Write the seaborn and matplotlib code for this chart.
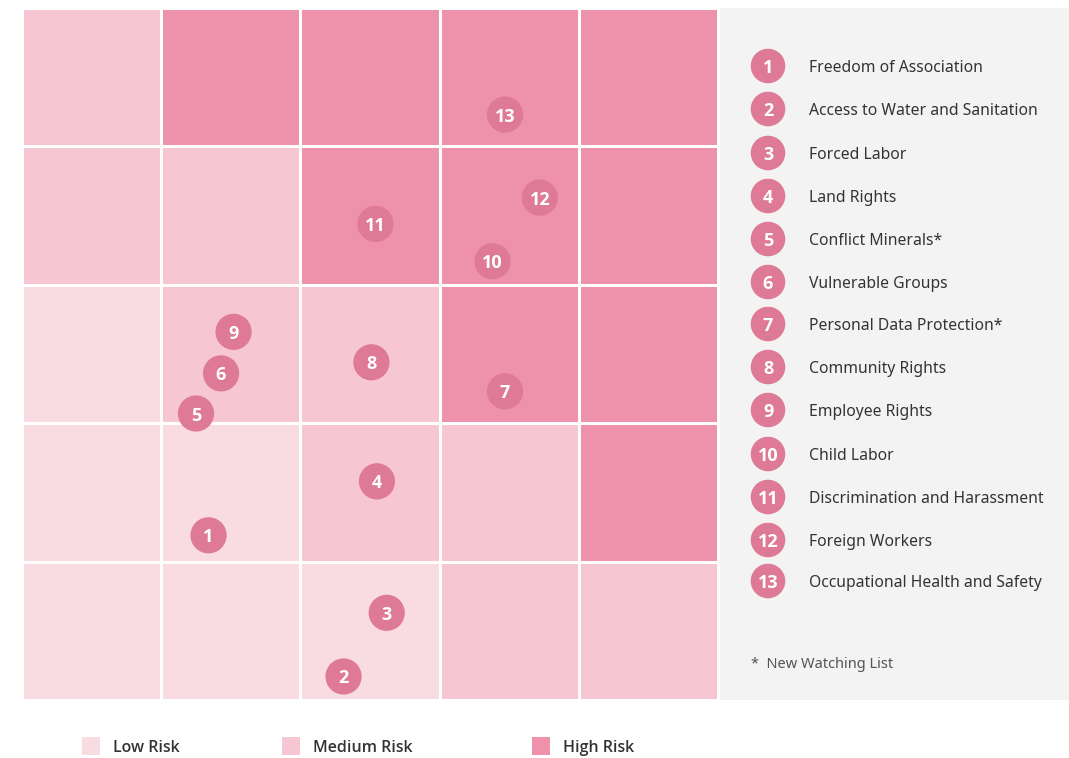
import numpy as np
import pandas as pd
import seaborn as sns
import matplotlib.pyplot as plt
from matplotlib.colors import ListedColormap
from matplotlib.patches import Rectangle

sns.set_theme(style="white")
plt.rcParams['font.family'] = ['Noto Sans', 'DejaVu Sans']

# ---- data ----
# risk level per cell, rows from top to bottom (0=low, 1=medium, 2=high)
risk_rows = [
    [1, 2, 2, 2, 2],
    [1, 1, 2, 2, 2],
    [0, 1, 1, 2, 2],
    [0, 0, 1, 1, 2],
    [0, 0, 0, 1, 1],
]
issue_ids = [1, 2, 3, 4, 5, 6, 7, 8, 9, 10, 11, 12, 13]
issue_x = [1.34, 2.31, 2.62, 2.55, 1.25, 1.43, 3.47, 2.51, 1.52, 3.38, 2.54, 3.72, 3.47]
issue_y = [1.19, 0.17, 0.63, 1.58, 2.07, 2.36, 2.23, 2.44, 2.66, 3.17, 3.44, 3.63, 4.23]
issue_names = [
    "Freedom of Association",
    "Access to Water and Sanitation",
    "Forced Labor",
    "Land Rights",
    "Conflict Minerals*",
    "Vulnerable Groups",
    "Personal Data Protection*",
    "Community Rights",
    "Employee Rights",
    "Child Labor",
    "Discrimination and Harassment",
    "Foreign Workers",
    "Occupational Health and Safety",
]
risk_labels = ["Low Risk", "Medium Risk", "High Risk"]
risk_colors = ["#F9DCE2", "#F6C7D2", "#EE91AB"]
circle_color = "#DE7A95"

W, H = 1069, 758
fig = plt.figure(figsize=(W / 100, H / 100), dpi=100)
fig.patch.set_facecolor("white")

def box(x0, y0, x1, y1):
    return [x0 / W, 1 - y1 / H, (x1 - x0) / W, (y1 - y0) / H]

# ---- heat grid ----
ax = fig.add_axes(box(22, 8, 718, 700))
df = pd.DataFrame(risk_rows)
sns.heatmap(df, ax=ax, cmap=ListedColormap(risk_colors), vmin=-0.5, vmax=2.5,
            cbar=False, linewidths=2, linecolor="white", square=False,
            xticklabels=False, yticklabels=False)
pts = pd.DataFrame({"x": issue_x, "y": [5 - v for v in issue_y], "id": issue_ids})
sns.scatterplot(data=pts, x="x", y="y", ax=ax, s=680, color=circle_color,
                edgecolor="none", legend=False, zorder=5)
for _, r in pts.iterrows():
    ax.text(r["x"], r["y"], str(int(r["id"])), color="white", fontsize=13,
            fontweight="bold", family="Open Sans", ha="center", va="center_baseline", zorder=6)
ax.set_xlim(0, 5)
ax.set_ylim(5, 0)
ax.set_xlabel("")
ax.set_ylabel("")
for s in ax.spines.values():
    s.set_visible(False)

# ---- right legend panel ----
lax = fig.add_axes(box(720, 8, 1069, 700))
lax.set_facecolor("#F3F3F3")
lax.set_xlim(720, 1069)
lax.set_ylim(700, 8)
leg_y = [66, 109, 153, 196, 239, 282, 324, 367, 410, 454, 497, 540, 581]
lpts = pd.DataFrame({"x": [768] * len(issue_ids), "y": leg_y, "id": issue_ids})
sns.scatterplot(data=lpts, x="x", y="y", ax=lax, s=620, color=circle_color,
                edgecolor="none", legend=False, zorder=5)
for i, (yy, name) in enumerate(zip(leg_y, issue_names)):
    lax.text(768, yy, str(issue_ids[i]), color="white", fontsize=13,
             fontweight="bold", family="Open Sans", ha="center", va="center_baseline", zorder=6)
    lax.text(809, yy, name, color="#333333", fontsize=11.3, ha="left",
             va="center_baseline", fontweight="medium")
lax.text(751, 662, "*  New Watching List", color="#555555", fontsize=10.5, ha="left",
         va="center_baseline")
lax.set_xticks([])
lax.set_yticks([])
lax.set_xlabel("")
lax.set_ylabel("")
for s in lax.spines.values():
    s.set_visible(False)

# ---- bottom legend ----
bax = fig.add_axes([0, 0, 1, 1], facecolor="none")
bax.set_xlim(0, W)
bax.set_ylim(H, 0)
bax.axis("off")
leg_x = [82, 282, 532]
for x0, lab, c in zip(leg_x, risk_labels, risk_colors):
    bax.add_patch(Rectangle((x0, 737), 18, 18, facecolor=c, edgecolor="none"))
    bax.text(x0 + 31, 746, lab, color="#333333", fontsize=11.5, family="Open Sans",
             fontweight="semibold", ha="left", va="center_baseline")

fig.savefig("out.png", dpi=100)
